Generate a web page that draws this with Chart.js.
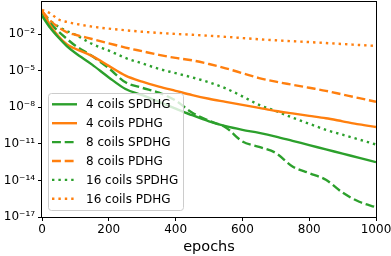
<!DOCTYPE html>
<html>
<head>
<meta charset="utf-8">
<script src="https://cdn.jsdelivr.net/npm/chart.js@4.4.1/dist/chart.umd.min.js"></script>
<style>
  html, body { margin: 0; padding: 0; background: #fff; }
  #wrap { width: 391px; height: 256px; }
</style>
</head>
<body>
<div id="wrap"><canvas id="chart" width="391" height="256"></canvas></div>
<script>
// epochs sampled along the x axis
const epochs = [0, 25, 50, 75, 100, 150, 200, 250, 300, 350, 400, 450, 500, 550, 600, 650, 700, 750, 800, 850, 900, 950, 1000];

// log10 of each curve at the epochs above
const spdhg4Log  = [-0.5, -1.5, -2.3, -3.0, -3.55, -4.5, -5.55, -6.5, -7.0, -7.55, -8.1, -8.65, -9.15, -9.55, -9.85, -10.1, -10.4, -10.75, -11.1, -11.45, -11.8, -12.15, -12.5];
const pdhg4Log   = [-0.05, -1.3, -2.2, -2.85, -3.2, -3.8, -4.6, -5.4, -5.9, -6.3, -6.65, -7.0, -7.3, -7.55, -7.8, -8.05, -8.3, -8.5, -8.7, -8.9, -9.15, -9.4, -9.62];
const spdhg8Log  = [-0.3, -1.1, -1.8, -2.4, -2.95, -3.8, -4.8, -5.95, -6.4, -6.8, -7.45, -8.45, -9.1, -9.65, -10.8, -11.25, -11.75, -12.85, -13.4, -13.95, -15.0, -15.75, -16.2];
const pdhg8Log   = [-0.1, -0.9, -1.45, -1.85, -2.05, -2.4, -2.75, -3.1, -3.4, -3.7, -3.95, -4.15, -4.45, -4.8, -5.2, -5.6, -5.9, -6.15, -6.4, -6.65, -6.95, -7.25, -7.55];
const spdhg16Log = [-0.2, -0.9, -1.4, -1.75, -2.05, -2.8, -3.35, -3.95, -4.4, -4.85, -5.2, -5.55, -5.95, -6.45, -7.1, -7.8, -8.3, -8.85, -9.35, -9.85, -10.25, -10.65, -11.05];
const pdhg16Log  = [0.0, -0.3, -0.8, -1.0, -1.15, -1.38, -1.55, -1.68, -1.8, -1.9, -1.98, -2.05, -2.13, -2.22, -2.32, -2.42, -2.5, -2.58, -2.65, -2.73, -2.81, -2.89, -2.96];

const seriesLabels = ['4 coils SPDHG', '4 coils PDHG', '8 coils SPDHG', '8 coils PDHG', '16 coils SPDHG', '16 coils PDHG'];
const yTickValues = [1e-2, 1e-5, 1e-8, 1e-11, 1e-14, 1e-17];
const yTickLabels = ['10⁻²', '10⁻⁵', '10⁻⁸', '10⁻¹¹', '10⁻¹⁴', '10⁻¹⁷'];
const xTickValues = [0, 200, 400, 600, 800, 1000];

const GREEN = '#2ca02c', ORANGE = '#ff7f0e';
const SOLID = [], DASHED = [8.9, 3.8], DOTTED = [2.4, 4.0];
const FONT = 'DejaVu Sans';

const toPoints = logs => epochs.map((e, i) => ({ x: e, y: Math.pow(10, logs[i]) }));

function ds(label, logs, color, dash) {
  return {
    label: label, data: toPoints(logs),
    borderColor: color, backgroundColor: color, borderWidth: 2.4,
    borderDash: dash, pointRadius: 0, cubicInterpolationMode: 'monotone', fill: false
  };
}

// legend drawn inside the plot, lower left
const innerLegend = {
  id: 'innerLegend',
  afterDraw(chart) {
    const c = chart.ctx;
    const x0 = 48.5, y0 = 93.5, w = 135, h = 117;
    c.save();
    c.beginPath();
    c.roundRect(x0, y0, w, h, 3);
    c.fillStyle = 'rgba(255,255,255,0.8)';
    c.fill();
    c.strokeStyle = '#cccccc';
    c.lineWidth = 1;
    c.stroke();
    c.font = '12px "' + FONT + '"';
    c.textBaseline = 'middle';
    chart.data.datasets.forEach((d, i) => {
      const yy = 104.3 + i * 18.9;
      c.beginPath();
      c.setLineDash(d.borderDash);
      c.lineWidth = d.borderWidth;
      c.strokeStyle = d.borderColor;
      c.moveTo(52, yy);
      c.lineTo(77, yy);
      c.stroke();
      c.setLineDash([]);
      c.fillStyle = '#000';
      c.fillText(d.label, 86, yy + 1);
    });
    c.restore();
  }
};

// box around the plot area (matplotlib spines)
const frame = {
  id: 'frame',
  afterDatasetsDraw(chart) {
    const a = chart.chartArea, c = chart.ctx;
    c.save();
    c.strokeStyle = '#000';
    c.lineWidth = 1;
    c.strokeRect(Math.round(a.left) - 0.5, Math.round(a.top) + 0.5, Math.round(a.right - a.left) + 1, Math.round(a.bottom - a.top));
    c.restore();
  }
};

new Chart(document.getElementById('chart'), {
  type: 'line',
  data: {
    datasets: [
      ds(seriesLabels[0], spdhg4Log, GREEN, SOLID),
      ds(seriesLabels[1], pdhg4Log, ORANGE, SOLID),
      ds(seriesLabels[2], spdhg8Log, GREEN, DASHED),
      ds(seriesLabels[3], pdhg8Log, ORANGE, DASHED),
      ds(seriesLabels[4], spdhg16Log, GREEN, DOTTED),
      ds(seriesLabels[5], pdhg16Log, ORANGE, DOTTED)
    ]
  },
  options: {
    responsive: false, animation: false,
    layout: { padding: { top: 1, right: 15, left: 0, bottom: 0 } },
    plugins: { legend: { display: false }, tooltip: { enabled: false } },
    scales: {
      x: {
        type: 'linear', min: 0, max: 1000,
        afterBuildTicks: s => { s.ticks = xTickValues.map(v => ({ value: v })); },
        afterFit: s => { s.height = 39; s.paddingLeft = 0; s.paddingRight = 0; },
        grid: { drawOnChartArea: false, drawTicks: true, tickLength: 4, color: '#000', tickColor: '#000' },
        border: { display: false },
        ticks: { font: { family: FONT, size: 12 }, color: '#000', padding: 2, maxRotation: 0, callback: v => String(v) },
        title: { display: true, text: 'epochs', font: { family: FONT, size: 14.5 }, color: '#000', padding: { top: 0, bottom: 0 } }
      },
      y: {
        type: 'logarithmic', min: 1e-17, max: 5.25, bounds: 'data',
        afterBuildTicks: s => { s.ticks = yTickValues.map(v => ({ value: v })); },
        afterFit: s => { s.width = 42; s.paddingTop = 0; s.paddingBottom = 0; },
        grid: { drawOnChartArea: false, drawTicks: true, tickLength: 4, color: '#000', tickColor: '#000' },
        border: { display: false },
        ticks: {
          font: { family: FONT, size: 12 }, color: '#000', padding: 3,
          callback: v => { const k = yTickValues.indexOf(v); return k >= 0 ? yTickLabels[k] : ''; }
        }
      }
    }
  },
  plugins: [frame, innerLegend]
});
</script>
</body>
</html>
